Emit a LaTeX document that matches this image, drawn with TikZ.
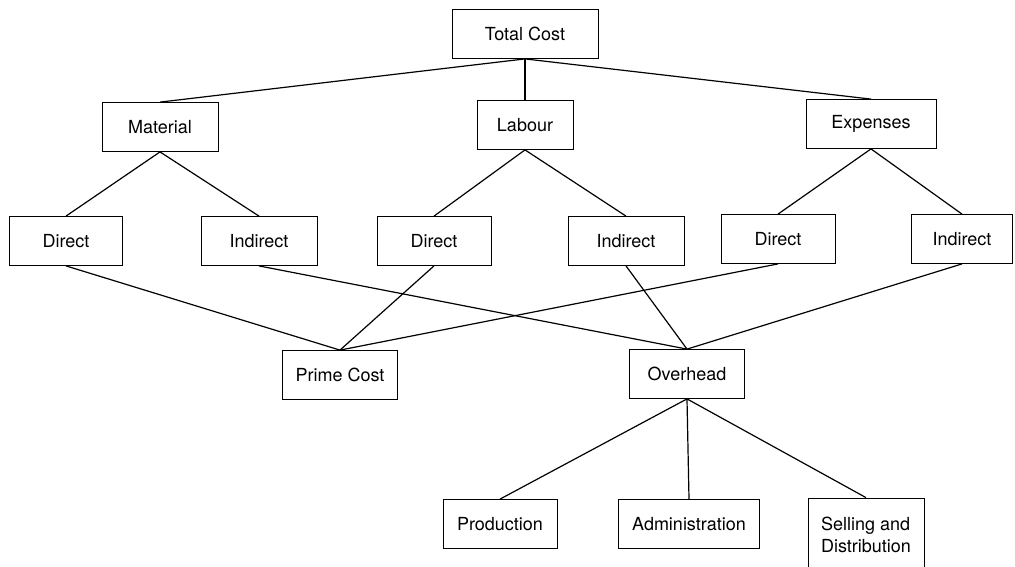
\documentclass[tikz,border=0pt]{standalone}
\usepackage{fontspec}
\setmainfont{TeX Gyre Heros}
\usetikzlibrary{positioning}

\begin{document}
\begin{tikzpicture}[x=1pt, y=1pt, on grid, node distance=91pt,
        box/.style={draw, line width=0.8pt, minimum height=49pt, inner sep=0pt,
            font=\fontsize{18}{22}\selectfont},
        every edge/.style={draw, line width=1.2pt}]
        \clip (0,0) rectangle (1015,-566);
        \node[box, minimum width=146pt](total) at (525,-34){Total Cost};
        \node[box, minimum width=116pt](material)[below left=93pt and 365pt of total]{Material};
        \node[box, minimum width=96pt](labour)[below=of total]{Labour};
        \node[box, minimum width=130pt](expenses)[below right=90pt and 346pt of total]{Expenses};
        \node[box, minimum width=113pt](dirm)[below left=114pt and 94pt of material]{Direct};
        \node[box, minimum width=116pt](indm)[below right=114pt and 99pt of material]{Indirect};
        \node[box, minimum width=114pt](dirl)[below left=116pt and 91pt of labour]{Direct};
        \node[box, minimum width=116pt](indl)[below right=116pt and 101pt of labour]{Indirect};
        \node[box, minimum width=114pt](dire)[below left=115pt and 93pt of expenses]{Direct};
        \node[box, minimum width=101pt](inde)[below right=115pt and 91pt of expenses]{Indirect};
        \node[box, minimum width=115pt](prime)[below left=134pt and 94pt of dirl]{Prime Cost};
        \node[box, minimum width=115pt](overhead)[below right=133pt and 61pt of indl]{Overhead};
        \node[box, minimum width=141pt](admin)[below right=150pt and 2pt of overhead]{Administration};
        \node[box, minimum width=114pt](production)[left=189pt of admin]{Production};
        \node[box, minimum width=116pt, minimum height=74pt, align=left](selling)[below right=161pt and 179pt of overhead]{Selling and\\Distribution};
        \path
        (total.south)    edge (material.north)
                         edge (labour.north)
                         edge (expenses.north)
        (material.south) edge (dirm.north)
                         edge (indm.north)
        (labour.south)   edge (dirl.north)
                         edge (indl.north)
        (expenses.south) edge (dire.north)
                         edge (inde.north)
        (prime.north)    edge (dirm.south)
                         edge (dirl.south)
                         edge (dire.south)
        (overhead.north) edge (indm.south)
                         edge (indl.south)
                         edge (inde.south)
        (overhead.south) edge (production.north)
                         edge (admin.north)
                         edge (selling.north);
    \end{tikzpicture}
\end{document}
